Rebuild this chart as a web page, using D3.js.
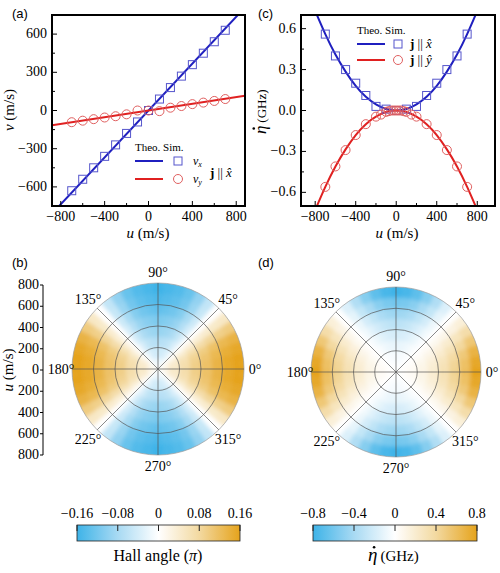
<!DOCTYPE html>
<html>
<head>
<meta charset="utf-8">
<script src="https://d3js.org/d3.v7.min.js"></script>
<style>
  body { margin: 0; background: #fff; }
  svg text.lab { font-family: "Liberation Sans", Arial, sans-serif; font-size: 13px; }
</style>
</head>
<body>
<div id="chart"></div>
<script>
// ---- data ----
const uSim = [-700, -600, -500, -400, -300, -200, -100, 0, 100, 200, 300, 400, 500, 600, 700];
const vxSim = [-630, -540, -450, -360, -270, -180, -90, 0, 90, 180, 270, 360, 450, 540, 630];
const vySim = [-92, -80, -68, -55, -45, -30, 0, 0, -5, 22, 35, 50, 62, 75, 90];
const uTheoA = [-880, 880];
const vxTheo = [-810, 810];
const vyTheo = [-115, 115];

const uTheoC = [-800, -700, -600, -500, -400, -300, -200, -100, 0, 100, 200, 300, 400, 500, 600, 700, 800];
const etaXTheo = [0.73, 0.56, 0.41, 0.285, 0.18, 0.1, 0.045, 0.011, 0, 0.011, 0.045, 0.1, 0.18, 0.285, 0.41, 0.56, 0.73];
const etaYTheo = etaXTheo.map(v => -v);
const uSimC = [-700, -600, -500, -400, -300, -200, -100, 0, 100, 200, 300, 400, 500, 600, 700];
const etaXSim = [0.56, 0.4, 0.3, 0.2, 0.11, 0.03, 0.01, 0, 0.01, 0.03, 0.11, 0.2, 0.3, 0.4, 0.56];
const uSimCy = [-700, -600, -500, -400, -300, -200, -150, -100, -75, -50, -25, 0, 25, 50, 75, 100, 150, 200, 300, 400, 500, 600, 700];
const etaYSim = [-0.56, -0.41, -0.29, -0.18, -0.1, -0.045, -0.03, -0.01, -0.005, 0, 0, 0, 0, 0, -0.005, -0.01, -0.03, -0.045, -0.1, -0.18, -0.29, -0.41, -0.56];

// polar maps: angular profile (0..90 deg, step 7.5) times radial amplitude (r = 100..800)
const profAngles = [0, 7.5, 15, 22.5, 30, 37.5, 45, 52.5, 60, 67.5, 75, 82.5, 90];
const hallProfile = [1, 1, 0.95, 0.85, 0.62, 0.3, 0, -0.35, -0.6, -0.8, -0.9, -0.95, -1];
const hallRadial = [0.15, 0.3, 0.45, 0.6, 0.72, 0.84, 0.94, 1];
const hallMax = 0.16;
const etaProfile = [1, 0.95, 0.85, 0.66, 0.45, 0.2, 0, -0.2, -0.45, -0.66, -0.85, -0.95, -1];
const etaRadial = [0.02, 0.06, 0.14, 0.25, 0.4, 0.56, 0.76, 1];
const etaMax = 0.8;
const radii = [100, 200, 300, 400, 500, 600, 700, 800];

const hallTicks = [-0.16, -0.08, 0, 0.08, 0.16];
const etaTicks = [-0.8, -0.4, 0, 0.4, 0.8];
const angleLabels = [0, 45, 90, 135, 180, 225, 270, 315];
const radialTicks = [800, 600, 400, 200, 0, 200, 400, 600, 800];

const BLUE = "#1f1fbf", RED = "#e02020";
const svg = d3.select("#chart").append("svg").attr("width", 500).attr("height", 573)
  .attr("font-family", "'Liberation Serif', 'DejaVu Serif', serif");
const fmt = d => d < 0 ? "\u2212" + Math.abs(d) : "" + d;

// eta-dot label: italic eta with a dot above, then unit
function etaLabel(g, x, y, size, rotate) {
  const t = g.append("g").attr("transform", `translate(${x},${y})` + (rotate ? " rotate(-90)" : ""));
  const es = size + 4;
  t.append("text").attr("x", -30).attr("y", 0).attr("font-size", es).attr("font-style", "italic").text("\u03B7");
  t.append("circle").attr("cx", -30 + es * 0.32).attr("cy", -es * 0.72).attr("r", 1.3).attr("fill", "#000");
  t.append("text").attr("x", -30 + es * 0.55 + 2).attr("y", 0).attr("font-size", size).text("(GHz)");
}

// ---- generic framed axes ----
function frame(x, y, xt, yt, yfmt) {
  const g = svg.append("g");
  const [x0, x1] = x.range(), [y0, y1] = y.range();
  const minor = (vals) => vals.slice(0, -1).map((v, i) => (v + vals[i + 1]) / 2);
  xt.forEach(v => g.append("line").attr("x1", x(v)).attr("x2", x(v)).attr("y1", y0).attr("y2", y0 - 5).attr("stroke", "#000"));
  minor(xt).forEach(v => g.append("line").attr("x1", x(v)).attr("x2", x(v)).attr("y1", y0).attr("y2", y0 - 3).attr("stroke", "#000"));
  yt.forEach(v => g.append("line").attr("y1", y(v)).attr("y2", y(v)).attr("x1", x0).attr("x2", x0 + 5).attr("stroke", "#000"));
  minor(yt).forEach(v => g.append("line").attr("y1", y(v)).attr("y2", y(v)).attr("x1", x0).attr("x2", x0 + 3).attr("stroke", "#000"));
  xt.forEach(v => g.append("text").attr("x", x(v)).attr("y", y0 + 15).attr("text-anchor", "middle").attr("font-size", 14).text(fmt(v)));
  yt.forEach(v => g.append("text").attr("x", x0 - 5).attr("y", y(v) + 4).attr("text-anchor", "end").attr("font-size", 14).text(yfmt(v)));
  g.append("rect").attr("x", x0).attr("y", y1).attr("width", x1 - x0).attr("height", y0 - y1)
    .attr("fill", "none").attr("stroke", "#000").attr("stroke-width", 2);
}
function clip(id, x, y) {
  svg.append("clipPath").attr("id", id).append("rect")
    .attr("x", x.range()[0]).attr("y", y.range()[1])
    .attr("width", x.range()[1] - x.range()[0]).attr("height", y.range()[0] - y.range()[1]);
}

// ---- panel (a) ----
{
  const x = d3.scaleLinear().domain([-880, 880]).range([52, 245]);
  const y = d3.scaleLinear().domain([-750, 750]).range([206, 15]);
  clip("ca", x, y);
  const g = svg.append("g").attr("clip-path", "url(#ca)");
  const line = d3.line().x(d => x(d[0])).y(d => y(d[1]));
  g.append("path").attr("d", line(d3.zip(uTheoA, vxTheo))).attr("stroke", BLUE).attr("stroke-width", 2).attr("fill", "none");
  g.append("path").attr("d", line(d3.zip(uTheoA, vyTheo))).attr("stroke", RED).attr("stroke-width", 2).attr("fill", "none");
  g.selectAll(".sq").data(d3.zip(uSim, vxSim)).join("rect")
    .attr("x", d => x(d[0]) - 4).attr("y", d => y(d[1]) - 4).attr("width", 8).attr("height", 8)
    .attr("fill", "none").attr("stroke", "#5555cc");
  g.selectAll(".ci").data(d3.zip(uSim, vySim)).join("circle")
    .attr("cx", d => x(d[0])).attr("cy", d => y(d[1])).attr("r", 4.5)
    .attr("fill", "none").attr("stroke", "#e06060");
  frame(x, y, [-800, -400, 0, 400, 800], [-600, -300, 0, 300, 600], fmt);
  svg.append("text").attr("x", 148).attr("y", 238).attr("text-anchor", "middle").attr("font-size", 15)
    .html("<tspan font-style='italic'>u</tspan> (m/s)");
  svg.append("text").attr("transform", "translate(14,110) rotate(-90)").attr("text-anchor", "middle").attr("font-size", 15)
    .html("<tspan font-style='italic'>v</tspan> (m/s)");
  svg.append("text").attr("class", "lab").attr("x", 12).attr("y", 18).text("(a)");
  svg.append("text").attr("x", 135).attr("y", 151).attr("font-size", 11).text("Theo.  Sim.");
  svg.append("line").attr("x1", 135).attr("x2", 163).attr("y1", 161).attr("y2", 161).attr("stroke", BLUE).attr("stroke-width", 2);
  svg.append("line").attr("x1", 135).attr("x2", 163).attr("y1", 179).attr("y2", 179).attr("stroke", RED).attr("stroke-width", 2);
  svg.append("rect").attr("x", 174).attr("y", 157).attr("width", 8).attr("height", 8).attr("fill", "none").attr("stroke", "#5555cc");
  svg.append("circle").attr("cx", 178).attr("cy", 179).attr("r", 4.5).attr("fill", "none").attr("stroke", "#e06060");
  svg.append("text").attr("x", 193).attr("y", 165).attr("font-size", 12).html("<tspan font-style='italic'>v</tspan><tspan font-size='8' dy='2' font-style='italic'>x</tspan>");
  svg.append("text").attr("x", 193).attr("y", 183).attr("font-size", 12).html("<tspan font-style='italic'>v</tspan><tspan font-size='8' dy='2' font-style='italic'>y</tspan>");
  svg.append("text").attr("x", 210).attr("y", 177).attr("font-size", 13).html("<tspan font-weight='bold'>j</tspan> || <tspan font-style='italic'>x\u0302</tspan>");
}

// ---- panel (c) ----
{
  const x = d3.scaleLinear().domain([-940, 975]).range([301, 495]);
  const y = d3.scaleLinear().domain([-0.7, 0.7]).range([206, 15]);
  clip("cc", x, y);
  const g = svg.append("g").attr("clip-path", "url(#cc)");
  const line = d3.line().x(d => x(d[0])).y(d => y(d[1])).curve(d3.curveNatural);
  g.append("path").attr("d", line(d3.zip(uTheoC, etaXTheo))).attr("stroke", BLUE).attr("stroke-width", 2).attr("fill", "none");
  g.append("path").attr("d", line(d3.zip(uTheoC, etaYTheo))).attr("stroke", RED).attr("stroke-width", 2).attr("fill", "none");
  g.selectAll(".sq").data(d3.zip(uSimC, etaXSim)).join("rect")
    .attr("x", d => x(d[0]) - 4).attr("y", d => y(d[1]) - 4).attr("width", 8).attr("height", 8)
    .attr("fill", "none").attr("stroke", "#5555cc");
  g.selectAll(".ci").data(d3.zip(uSimCy, etaYSim)).join("circle")
    .attr("cx", d => x(d[0])).attr("cy", d => y(d[1])).attr("r", 4.5)
    .attr("fill", "none").attr("stroke", "#e06060");
  frame(x, y, [-800, -400, 0, 400, 800], [-0.6, -0.3, 0, 0.3, 0.6], v => fmt(+v.toFixed(1)).replace(/^(\u2212?)(\d)$/, "$1$2.0"));
  svg.append("text").attr("x", 397).attr("y", 238).attr("text-anchor", "middle").attr("font-size", 15)
    .html("<tspan font-style='italic'>u</tspan> (m/s)");
  etaLabel(svg, 266, 104, 13, true);
  svg.append("text").attr("class", "lab").attr("x", 258).attr("y", 18).text("(c)");
  svg.append("text").attr("x", 357).attr("y", 34).attr("font-size", 11).text("Theo.  Sim.");
  svg.append("line").attr("x1", 357).attr("x2", 385).attr("y1", 44).attr("y2", 44).attr("stroke", BLUE).attr("stroke-width", 2);
  svg.append("line").attr("x1", 357).attr("x2", 385).attr("y1", 60).attr("y2", 60).attr("stroke", RED).attr("stroke-width", 2);
  svg.append("rect").attr("x", 394).attr("y", 40).attr("width", 8).attr("height", 8).attr("fill", "none").attr("stroke", "#5555cc");
  svg.append("circle").attr("cx", 398).attr("cy", 60).attr("r", 4.5).attr("fill", "none").attr("stroke", "#e06060");
  svg.append("text").attr("x", 410).attr("y", 48).attr("font-size", 13).html("<tspan font-weight='bold'>j</tspan> || <tspan font-style='italic'>x\u0302</tspan>");
  svg.append("text").attr("x", 410).attr("y", 64).attr("font-size", 13).html("<tspan font-weight='bold'>j</tspan> || <tspan font-style='italic'>y\u0302</tspan>");
}

// ---- colour scale ----
function cscale(max) {
  return d3.scaleLinear().domain([-max, -max / 2, 0, max / 2, max])
    .range(["#3eb3e8", "#a8daf3", "#ffffff", "#f3d9a0", "#e5a31c"]).clamp(true);
}

// ---- polar panels ----
svg.append("defs").append("filter").attr("id", "blur").append("feGaussianBlur").attr("stdDeviation", 2.2);
function polar(cx, cy, R, profile, radial, max, id) {
  const r = d3.scaleLinear().domain([0, 800]).range([0, R]);
  const color = cscale(max);
  svg.append("clipPath").attr("id", id).append("circle").attr("cx", cx).attr("cy", cy).attr("r", R);
  const g = svg.append("g").attr("clip-path", `url(#${id})`).append("g").attr("filter", "url(#blur)")
    .attr("transform", `translate(${cx},${cy})`);
  const cells = [];
  for (let k = 0; k < 48; k++) {
    const th = k * 7.5;
    let f = th % 180; if (f > 90) f = 180 - f;
    const p = profile[profAngles.indexOf(f)];
    radii.forEach((rv, j) => cells.push({ th, r0: rv - 100, r1: rv, v: p * radial[j] * max }));
  }
  const arc = d3.arc();
  const rad = d => d * Math.PI / 180;
  g.selectAll("path").data(cells).join("path")
    .attr("d", d => arc({ innerRadius: r(d.r0), outerRadius: r(d.r1) + (d.r1 === 800 ? 4 : 0.5),
      startAngle: rad(90 - d.th - 3.9), endAngle: rad(90 - d.th + 3.9) }))
    .attr("fill", d => color(d.v));
  const gg = svg.append("g").attr("transform", `translate(${cx},${cy})`);
  [200, 400, 600, 800].forEach(v => gg.append("circle").attr("r", r(v)).attr("fill", "none")
    .attr("stroke", v === 800 ? "#999" : "#555").attr("stroke-width", 0.7));
  [0, 45, 90, 135].forEach(a => gg.append("line")
    .attr("x1", R * Math.cos(rad(a))).attr("y1", -R * Math.sin(rad(a)))
    .attr("x2", -R * Math.cos(rad(a))).attr("y2", R * Math.sin(rad(a)))
    .attr("stroke", "#555").attr("stroke-width", 0.7));
  angleLabels.forEach(a => {
    const o = (a % 90 === 0) ? 11 : 13;
    gg.append("text").attr("x", (R + o) * Math.cos(rad(a))).attr("y", -(R + o) * Math.sin(rad(a)) + 5)
      .attr("text-anchor", "middle").attr("font-size", 14).text(a + "\u00B0");
  });
}
polar(158, 369, 86, hallProfile, hallRadial, hallMax, "pb");
polar(396, 372, 85, etaProfile, etaRadial, etaMax, "pd");
svg.append("text").attr("class", "lab").attr("x", 12).attr("y", 267).text("(b)");
svg.append("text").attr("class", "lab").attr("x", 258).attr("y", 267).text("(d)");

// radial axis for (b)
{
  const y = d3.scaleLinear().domain([0, 8]).range([285, 455]);
  const g = svg.append("g");
  g.append("line").attr("x1", 43).attr("x2", 43).attr("y1", y(0)).attr("y2", y(8)).attr("stroke", "#000");
  radialTicks.forEach((v, i) => {
    g.append("line").attr("x1", 40).attr("x2", 43).attr("y1", y(i)).attr("y2", y(i)).attr("stroke", "#000");
    g.append("text").attr("x", 39).attr("y", y(i) + 4).attr("text-anchor", "end").attr("font-size", 14).text(v);
  });
  svg.append("text").attr("transform", "translate(13,370) rotate(-90)").attr("text-anchor", "middle").attr("font-size", 15)
    .html("<tspan font-style='italic'>u</tspan> (m/s)");
}

// ---- colour bars ----
function colorbar(x0, x1, ticks, max, id) {
  const color = cscale(max);
  const x = d3.scaleLinear().domain([-max, max]).range([x0, x1]);
  const grad = svg.append("defs").append("linearGradient").attr("id", id);
  d3.range(0, 1.0001, 0.05).forEach(t => grad.append("stop").attr("offset", t).attr("stop-color", color(-max + 2 * max * t)));
  svg.append("rect").attr("x", x0).attr("y", 525).attr("width", x1 - x0).attr("height", 16)
    .attr("fill", `url(#${id})`).attr("stroke", "#222").attr("stroke-width", 0.8);
  ticks.forEach(v => {
    svg.append("line").attr("x1", x(v)).attr("x2", x(v)).attr("y1", 525).attr("y2", 531).attr("stroke", "#222");
    svg.append("text").attr("x", x(v)).attr("y", 518).attr("text-anchor", "middle").attr("font-size", 14).text(fmt(v));
  });
}
colorbar(77, 240, hallTicks, hallMax, "g1");
colorbar(313, 477, etaTicks, etaMax, "g2");
svg.append("text").attr("x", 158).attr("y", 561).attr("text-anchor", "middle").attr("font-size", 16)
  .html("Hall angle (<tspan font-style='italic'>\u03C0</tspan>)");
etaLabel(svg, 398, 561, 15, false);
</script>
</body>
</html>
